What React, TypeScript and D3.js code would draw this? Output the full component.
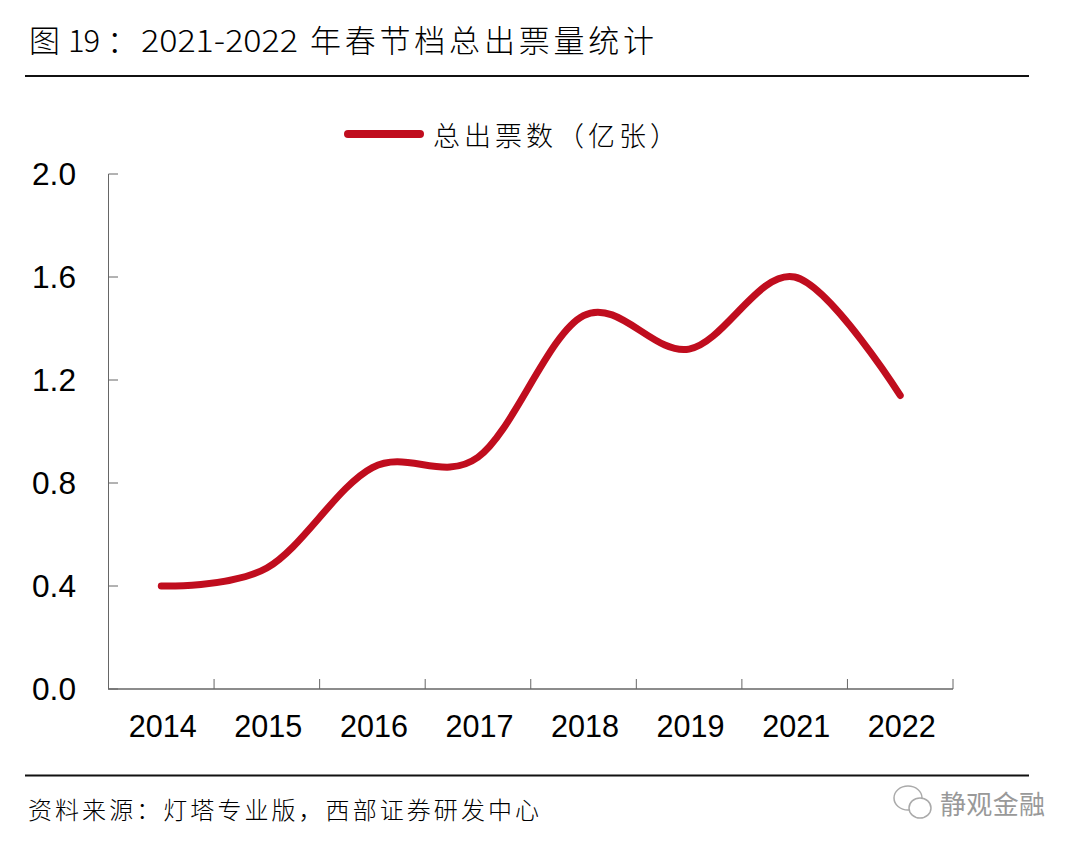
import React from "react";
import * as d3 from "d3";

const categories = ["2014", "2015", "2016", "2017", "2018", "2019", "2021", "2022"];
const values = [0.4, 0.47, 0.86, 0.9, 1.45, 1.32, 1.6, 1.14];
const yTicks = [0, 0.4, 0.8, 1.2, 1.6, 2.0];
const titleParts = ["图", "19", "：", "2021-2022", "年春节档总出票量统计"];
const legendText = "总出票数（亿张）";
const sourceText = "资料来源：灯塔专业版，西部证券研发中心";
const watermarkText = "静观金融";
const RED = "#c00d1e";
const CJK = "'Noto Sans CJK SC', sans-serif";
const LATIN = "'Liberation Sans', Arial, sans-serif";

export default function App() {
  const x = d3.scaleBand().domain(categories).range([108.5, 953]);
  const y = d3.scaleLinear().domain([0, 2]).range([689, 174]);
  const line = d3
    .line<number>()
    .x((_, i) => x(categories[i])! + x.bandwidth() / 2)
    .y((d) => y(d))
    .curve(d3.curveCatmullRom.alpha(0));
  const edges = [...categories.map((c) => x(c)!), 953];
  const titleCommon = { y: 52, fontFamily: CJK, fontSize: 31, fontWeight: 300, fill: "#000", lengthAdjust: "spacingAndGlyphs" as const };
  return (
    <svg width={1080} height={852} style={{ position: "absolute", left: 0, top: 0, background: "#fff" }}>
      <text x={29} {...titleCommon}>{titleParts[0]}</text>
      <text x={68} {...titleCommon} textLength={32} lengthAdjust="spacing">{titleParts[1]}</text>
      <text x={107} {...titleCommon}>{titleParts[2]}</text>
      <text x={141} {...titleCommon} textLength={157}>{titleParts[3]}</text>
      <text x={310} {...titleCommon} textLength={344} lengthAdjust="spacing">{titleParts[4]}</text>
      <line x1={25} x2={1029} y1={76} y2={76} stroke="#111" strokeWidth={2} />
      <line x1={348} x2={420} y1={134} y2={134} stroke={RED} strokeWidth={8} strokeLinecap="round" />
      <text x={433} y={146} fontFamily={CJK} fontSize={27} fontWeight={300} fill="#000" textLength={244} lengthAdjust="spacing">
        {legendText}
      </text>
      <g stroke="#666" strokeWidth={1} fill="none">
        <line x1={108.5} x2={108.5} y1={174} y2={689} />
        <line x1={108} x2={953} y1={689} y2={689} strokeWidth={1.5} />
        {yTicks.map((t) => (
          <line key={t} x1={108.5} x2={118} y1={y(t)} y2={y(t)} />
        ))}
        {edges.slice(1).map((e, i) => (
          <line key={i} x1={e} x2={e} y1={679} y2={689} />
        ))}
      </g>
      {yTicks.map((t) => (
        <text key={t} x={32} y={y(t) + 11} fontFamily={LATIN} fontSize={32} fill="#000" textLength={44} lengthAdjust="spacingAndGlyphs">
          {t.toFixed(1)}
        </text>
      ))}
      {categories.map((c) => (
        <text key={c} x={x(c)! + x.bandwidth() / 2 - 32.5} y={737} fontFamily={LATIN} fontSize={32} fill="#000" textLength={68} lengthAdjust="spacingAndGlyphs">
          {c}
        </text>
      ))}
      <path d={line(values) ?? ""} fill="none" stroke={RED} strokeWidth={7} strokeLinecap="round" strokeLinejoin="round" />
      <line x1={25} x2={1029} y1={775.5} y2={775.5} stroke="#111" strokeWidth={2} />
      <text x={28} y={819} fontFamily={CJK} fontSize={24} fontWeight={300} fill="#000" textLength={511} lengthAdjust="spacing">
        {sourceText}
      </text>
      <g fill="none" stroke="#aaa" strokeWidth={1.5}>
        <ellipse cx={908} cy={798} rx={14} ry={12} fill="#fff" />
        <ellipse cx={920} cy={808} rx={11} ry={10} fill="#fff" />
      </g>
      <text x={940} y={814} fontFamily={CJK} fontSize={26} fill="#999" textLength={105} lengthAdjust="spacing">
        {watermarkText}
      </text>
    </svg>
  );
}
